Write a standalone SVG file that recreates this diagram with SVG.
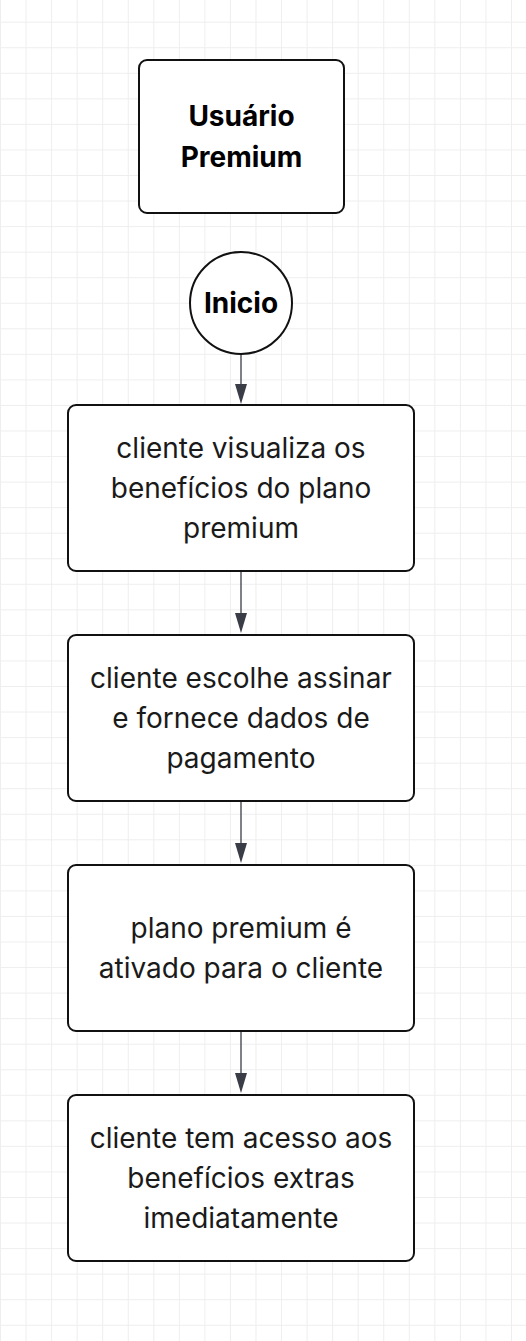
<svg xmlns="http://www.w3.org/2000/svg" width="526" height="1341" viewBox="0 0 526 1341">
<style>
.box{fill:#ffffff;stroke:#111111;stroke-width:2}
.t{font-family:Inter,"Liberation Sans",sans-serif;font-size:28px;fill:#1a1a1a;text-anchor:middle;dominant-baseline:central}
.b{font-weight:700;fill:#000}
.edge{stroke:#3a3d46;stroke-width:1.3;fill:none}
.head{fill:#3a3d46}
</style>
<defs>
<pattern id="grid" x="0" y="21.7" width="25.55" height="25.55" patternUnits="userSpaceOnUse">
<path d="M0 0.5H25.55M0.5 0V25.55" stroke="#eeeeee" stroke-width="1" fill="none"/>
</pattern>
</defs>
<rect width="526" height="1341" fill="#ffffff"/>
<rect width="526" height="1341" fill="url(#grid)"/>
<g id="connectors">
<line class="edge" x1="241" y1="354" x2="241" y2="400"/>
<line class="edge" x1="241" y1="571" x2="241" y2="630"/>
<line class="edge" x1="241" y1="801" x2="241" y2="860"/>
<line class="edge" x1="241" y1="1031" x2="241" y2="1090"/>
<path class="head" d="M235 384L247 384L241 404Z"/>
<path class="head" d="M235 613L247 613L241 633Z"/>
<path class="head" d="M235 843L247 843L241 863Z"/>
<path class="head" d="M235 1073L247 1073L241 1093Z"/>
</g>
<g id="usuario-premium">
<rect class="box" x="139" y="60" width="205" height="153" rx="8"/>
<text class="t b" x="241.5" y="116">Usuário</text>
<text class="t b" x="241.5" y="157">Premium</text>
</g>
<g id="inicio">
<circle class="box" cx="241" cy="303" r="51"/>
<text class="t b" x="241" y="303">Inicio</text>
</g>
<g id="step1">
<rect class="box" x="68" y="405" width="346" height="166" rx="8"/>
<text class="t" x="241" y="448">cliente visualiza os</text>
<text class="t" x="241" y="488">benefícios do plano</text>
<text class="t" x="241" y="528">premium</text>
</g>
<g id="step2">
<rect class="box" x="68" y="635" width="346" height="166" rx="8"/>
<text class="t" x="241" y="678">cliente escolhe assinar</text>
<text class="t" x="241" y="718">e fornece dados de</text>
<text class="t" x="241" y="758">pagamento</text>
</g>
<g id="step3">
<rect class="box" x="68" y="865" width="346" height="166" rx="8"/>
<text class="t" x="241" y="928">plano premium é</text>
<text class="t" x="241" y="968">ativado para o cliente</text>
</g>
<g id="step4">
<rect class="box" x="68" y="1095" width="346" height="166" rx="8"/>
<text class="t" x="241" y="1138">cliente tem acesso aos</text>
<text class="t" x="241" y="1178">benefícios extras</text>
<text class="t" x="241" y="1218">imediatamente</text>
</g>
</svg>
